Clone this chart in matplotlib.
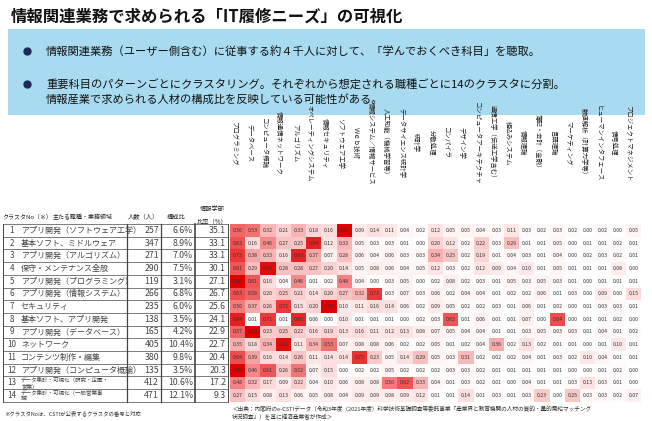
import numpy as np
import matplotlib
matplotlib.use("Agg")
import matplotlib.pyplot as plt
from matplotlib.colors import LinearSegmentedColormap
from matplotlib.patches import Rectangle

plt.rcParams["font.family"] = "Noto Sans CJK JP"

subjects = ["プログラミング", "データベース", "コンピュータ概論", "情報通信ネットワーク", "アルゴリズム",
            "オペレーティングシステム", "情報セキュリティ", "ソフトウェア工学", "Ｗｅｂ技術",
            "情報システム／情報サービス", "人工知能（機械学習等）", "データサイエンス統計学", "統計学",
            "分散処理", "コンパイラ", "デザイン学", "コンピュータアーキテクチャ", "通信工学（伝送工学含む）",
            "組込みシステム", "情報理論", "簿記・会計（金融）", "言語理論", "マーケティング",
            "数値解析（計算力学等）", "ヒューマンインタフェース", "信号処理", "プロジェクトマネジメント"]
cluster_no = list(range(1, 15))
roles = ["アプリ開発（ソフトウェア工学）", "基本ソフト、ミドルウェア", "アプリ開発（アルゴリズム）",
         "保守・メンテナンス全般", "アプリ開発（プログラミング）", "アプリ開発（情報システム）",
         "セキュリティ", "基本ソフト、アプリ開発", "アプリ開発（データベース）", "ネットワーク",
         "コンテンツ制作・編集", "アプリ開発（コンピュータ概論）", "データ集計・可視化（研究・企画・\n営業）",
         "データ集計・可視化（一般営業事\n務）"]
people = [257, 347, 271, 290, 119, 266, 235, 138, 165, 405, 380, 135, 412, 471]
share = ["6.6%", "8.9%", "7.0%", "7.5%", "3.1%", "6.8%", "6.0%", "3.5%", "4.2%", "10.4%", "9.8%", "3.5%", "10.6%", "12.1%"]
info_ratio = [35.1, 33.1, 33.1, 30.1, 27.1, 26.7, 25.6, 24.1, 22.9, 22.7, 20.4, 20.3, 17.2, 9.3]

r01 = [0.56,0.53,0.32,0.21,0.33,0.18,0.16,0.99,0.09,0.14,0.11,0.04,0.02,0.12,0.05,0.05,0.04,0.03,0.11,0.03,0.02,0.03,0.02,0.00,0.02,0.00,0.05]
r02 = [0.63,0.16,0.46,0.27,0.25,0.84,0.12,0.33,0.05,0.03,0.03,0.01,0.00,0.20,0.12,0.02,0.22,0.03,0.29,0.01,0.01,0.05,0.00,0.01,0.01,0.02,0.01]
r03 = [0.73,0.38,0.33,0.16,0.83,0.37,0.07,0.28,0.06,0.04,0.06,0.03,0.03,0.34,0.25,0.02,0.19,0.01,0.04,0.03,0.01,0.04,0.00,0.02,0.03,0.02,0.01]
r04 = [0.61,0.29,0.94,0.28,0.28,0.27,0.20,0.14,0.05,0.08,0.06,0.04,0.05,0.12,0.03,0.02,0.12,0.09,0.04,0.10,0.01,0.05,0.01,0.01,0.01,0.08,0.00]
r05 = [1.00,0.61,0.16,0.04,0.46,0.01,0.02,0.48,0.04,0.00,0.03,0.05,0.00,0.02,0.08,0.02,0.03,0.01,0.05,0.03,0.05,0.03,0.01,0.00,0.01,0.01,0.01]
r06 = [0.63,0.58,0.20,0.25,0.21,0.14,0.20,0.27,0.32,0.73,0.03,0.07,0.03,0.06,0.02,0.04,0.04,0.01,0.02,0.02,0.06,0.01,0.03,0.00,0.09,0.00,0.15]
r07 = [0.50,0.37,0.26,0.72,0.15,0.20,1.00,0.10,0.11,0.16,0.14,0.06,0.02,0.09,0.05,0.02,0.02,0.03,0.01,0.06,0.01,0.02,0.00,0.01,0.03,0.03,0.01]
r08 = [0.84,0.01,0.71,0.01,0.80,0.06,0.00,0.10,0.01,0.01,0.01,0.00,0.02,0.03,0.62,0.01,0.06,0.01,0.01,0.07,0.00,0.64,0.00,0.01,0.01,0.02,0.00]
r09 = [0.57,1.00,0.23,0.25,0.22,0.16,0.19,0.13,0.16,0.11,0.12,0.13,0.08,0.07,0.05,0.04,0.04,0.01,0.01,0.03,0.05,0.03,0.03,0.01,0.04,0.01,0.02]
r10 = [0.35,0.18,0.34,0.93,0.11,0.34,0.53,0.07,0.08,0.08,0.06,0.02,0.02,0.05,0.01,0.02,0.04,0.36,0.02,0.13,0.02,0.01,0.01,0.00,0.01,0.10,0.01]
r11 = [0.64,0.39,0.16,0.14,0.26,0.11,0.14,0.14,0.75,0.23,0.05,0.14,0.29,0.05,0.03,0.31,0.02,0.02,0.02,0.04,0.01,0.03,0.02,0.10,0.04,0.01,0.01]
r12 = [0.99,0.46,0.61,0.26,0.52,0.07,0.15,0.00,0.02,0.02,0.05,0.02,0.02,0.02,0.03,0.03,0.02,0.01,0.01,0.01,0.01,0.01,0.00,0.00,0.01,0.02,0.00]
r13 = [0.48,0.32,0.17,0.09,0.22,0.04,0.10,0.06,0.08,0.08,0.50,0.62,0.33,0.04,0.01,0.03,0.02,0.01,0.00,0.04,0.01,0.01,0.03,0.13,0.03,0.01,0.00]
r14 = [0.27,0.15,0.08,0.13,0.06,0.05,0.08,0.04,0.09,0.09,0.08,0.09,0.12,0.01,0.01,0.14,0.01,0.03,0.01,0.03,0.23,0.00,0.25,0.03,0.03,0.02,0.07]
values = np.array([r01, r02, r03, r04, r05, r06, r07, r08, r09, r10, r11, r12, r13, r14])

W, H = 652, 421
fig = plt.figure(figsize=(W / 100, H / 100), dpi=100)
ax = fig.add_axes([0, 0, 1, 1])
ax.set_xlim(0, W)
ax.set_ylim(H, 0)
ax.axis("off")

# title and info box
ax.text(11, 17, "情報関連業務で求められる「IT履修ニーズ」の可視化", fontsize=11.8, fontweight="bold",
        va="center", ha="left", color="#111111")
ax.add_patch(Rectangle((8, 29), 637, 86, facecolor="#a8dbef", edgecolor="none"))
bul = [(51, "情報関連業務（ユーザー側含む）に従事する約４千人に対して、「学んでおくべき科目」を聴取。"),
       (84, "重要科目のパターンごとにクラスタリング。それぞれから想定される職種ごとに14のクラスタに分割。")]
for y, t in bul:
    ax.plot([27], [y], marker="o", ms=5, color="#1f2a5c")
    ax.text(46, y, t, fontsize=8.1, va="center", ha="left", color="#111111")
ax.text(46, 100, "情報産業で求められる人材の構成比を反映している可能性がある。", fontsize=8.1,
        va="center", ha="left", color="#111111")

# heatmap
x0, x1 = 230, 641
y0 = 224
rh = 12.7
y1 = y0 + rh * 14
cw = (x1 - x0) / 27
cmap = LinearSegmentedColormap.from_list("wr", ["#ffffff", "#f8b4b4", "#ee4444", "#e00000"])
ax.imshow(values, cmap=cmap, vmin=0, vmax=1, extent=(x0, x1, y1, y0), aspect="auto",
          interpolation="nearest", zorder=1)
ax.set_xlim(0, W)
ax.set_ylim(H, 0)
for i in range(14):
    for j in range(27):
        ax.text(x0 + cw * (j + 0.5), y0 + rh * (i + 0.5), f"{values[i, j]:.2f}", fontsize=3.7,
                ha="center", va="center", color="#333333", zorder=2)
for j, s in enumerate(subjects):
    ax.text(x0 + cw * (j + 0.5), 143, s, fontsize=4.6, rotation=-90, ha="center", va="top",
            rotation_mode="anchor", color="#222222")

# left table
ax.text(2, 217, "クラスタNo（※）", fontsize=4.3, va="center", ha="left", color="#222222")
ax.text(83, 217, "主たる職種・業務領域", fontsize=4.3, va="center", ha="center", color="#222222")
ax.text(143, 217, "人数（人）", fontsize=4.5, va="center", ha="center", color="#222222")
ax.text(176, 217, "構成比", fontsize=4.5, va="center", ha="center", color="#222222")
ax.text(212, 209, "情報学部", fontsize=4.5, va="center", ha="center", color="#222222")
ax.text(212, 221, "比率（%）", fontsize=4.5, va="center", ha="center", color="#222222")

tl, tr = 3, 228
for i in range(15):
    y = y0 + rh * i
    ax.plot([tl, tr], [y, y], color="#666666", lw=0.6)
for xv, lw in [(tl, 0.7), (127, 0.9), (161, 0.9), (195, 1.2), (tr, 0.7)]:
    ax.plot([xv, xv], [y0, y1], color="#444444", lw=lw)
for i in range(14):
    yc = y0 + rh * (i + 0.5)
    ax.text(12, yc, str(cluster_no[i]), fontsize=5.8, ha="center", va="center", color="#444444")
    if "\n" in roles[i]:
        a, b = roles[i].split("\n")
        ax.text(21, yc - 3.2, a, fontsize=4.0, ha="left", va="center", color="#444444")
        ax.text(21, yc + 3.2, b, fontsize=4.0, ha="left", va="center", color="#444444")
    else:
        ax.text(21, yc, roles[i], fontsize=5.8, ha="left", va="center", color="#444444")
    ax.text(159, yc, str(people[i]), fontsize=6.3, ha="right", va="center", color="#444444")
    ax.text(193, yc, share[i], fontsize=6.3, ha="right", va="center", color="#444444")
    ax.text(226, yc, f"{info_ratio[i]:.1f}", fontsize=6.3, ha="right", va="center", color="#444444")

ax.text(4, 413, "※クラスタNoは、CSTIが公表するクラスタの番号と対応", fontsize=3.9, ha="left",
        va="center", color="#333333")
ax.text(232, 409, "＜出典：内閣府のe-CSTIデータ（令和3年度（2021年度）科学技術基礎調査等委託事業「産業界と教育機関の人材の質的・量的需給マッチング",
        fontsize=4.1, ha="left", va="center", color="#333333")
ax.text(232, 417, "状況調査」）を基に経済産業省が作成＞", fontsize=4.1, ha="left", va="center", color="#333333")

fig.savefig("out.png", dpi=100)
